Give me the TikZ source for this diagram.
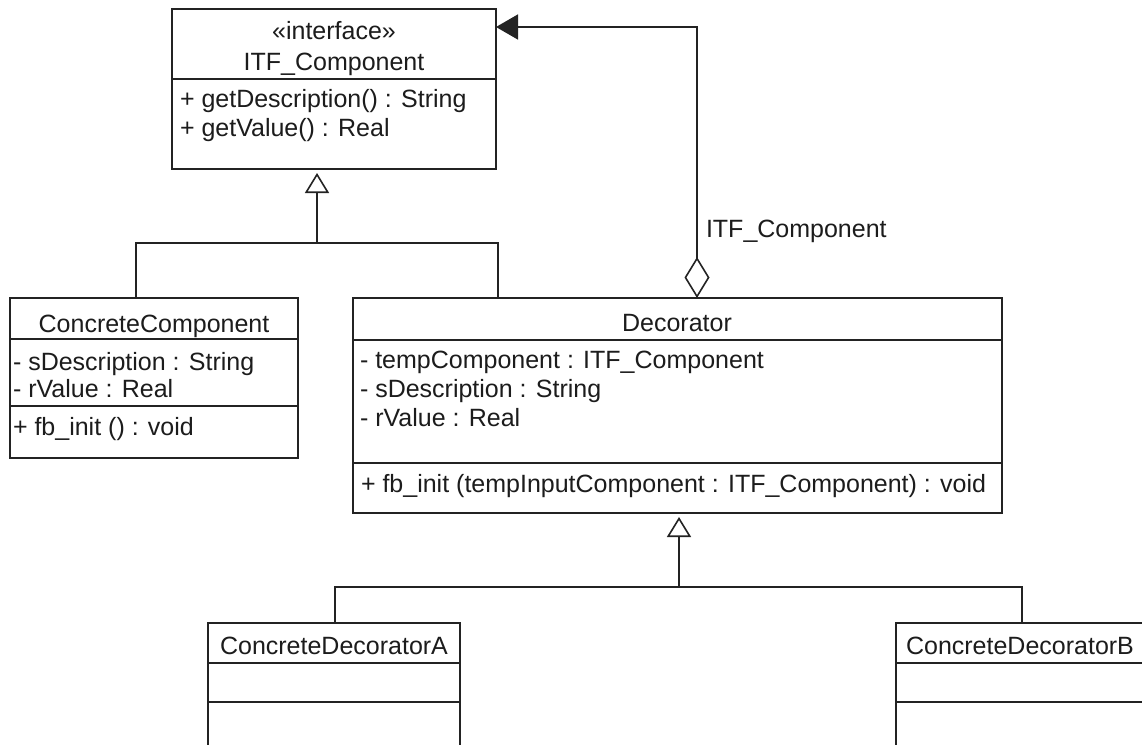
\documentclass[tikz,border=0pt]{standalone}
\usepackage{fontspec}
\setmainfont{Liberation Sans}
\usetikzlibrary{arrows.meta,calc}
\definecolor{ink}{RGB}{35,35,35}
\definecolor{txt}{RGB}{28,28,28}
\begin{document}
\begin{tikzpicture}[x=1pt,y=-1pt,
  every node/.style={font=\fontsize{25}{30}\selectfont, text=txt, inner sep=0pt, outer sep=0pt},
  rule/.style={draw=ink, line width=1.6pt},
  classbox/.style={rule, rectangle, anchor=north west, fill=white},
  member/.style={anchor=base west},
  title/.style={anchor=base},
  gen/.style={rule, -{Triangle[open, length=20pt, width=24pt, line width=1.6pt]}, shorten >=4pt},
  agg/.style={rule, {Diamond[open, length=41pt, width=25pt, line width=1.6pt]}-{Triangle[length=22pt, width=25pt]}}
]
\useasboundingbox (0,0) rectangle (1142,744);
\fill[white] (0,0) rectangle (1142,744);
\clip (0,0) rectangle (1142,744);

% ---------- class boxes ----------
\node[classbox, minimum width=324pt, minimum height=160pt] (itf) at (172,9) {};
\node[classbox, minimum width=288pt, minimum height=160pt] (cc)  at (10,298) {};
\node[classbox, minimum width=649pt, minimum height=215pt] (dec) at (353,298) {};
\node[classbox, minimum width=252pt, minimum height=160pt] (cda) at (208,623) {};
\node[classbox, minimum width=248pt, minimum height=160pt] (cdb) at (896,623) {};

% ---------- compartment rules ----------
\draw[rule] (itf.west |- 0,79)  -- (itf.east |- 0,79);
\draw[rule] (cc.west |- 0,339)  -- (cc.east |- 0,339);
\draw[rule] (cc.west |- 0,406)  -- (cc.east |- 0,406);
\draw[rule] (dec.west |- 0,340) -- (dec.east |- 0,340);
\draw[rule] (dec.west |- 0,463) -- (dec.east |- 0,463);
\draw[rule] (cda.west |- 0,663) -- (cda.east |- 0,663);
\draw[rule] (cda.west |- 0,702) -- (cda.east |- 0,702);
\draw[rule] (cdb.west |- 0,663) -- (cdb.east |- 0,663);
\draw[rule] (cdb.west |- 0,702) -- (cdb.east |- 0,702);

% ---------- ITF_Component ----------
\node[title]  (itfst)   at (334,39)  {«interface»};
\node[title]  (itfname) at (334,70)  {ITF\_Component};
\node[member] (itfm1)   at (180,107) {+ getDescription() : String};
\node[member] (itfm2)   at (180,136) {+ getValue() : Real};

% ---------- ConcreteComponent ----------
\node[title]  (ccname) at (154,332) {ConcreteComponent};
\node[member] (cca1)   at (13,370)  {- sDescription : String};
\node[member] (cca2)   at (13,397)  {- rValue : Real};
\node[member] (cco1)   at (13,435)  {+ fb\_init () : void};

% ---------- Decorator ----------
\node[title]  (decname) at (677,331) {Decorator};
\node[member] (deca1)   at (360,368) {- tempComponent : ITF\_Component};
\node[member] (deca2)   at (360,397) {- sDescription : String};
\node[member] (deca3)   at (360,426) {- rValue : Real};
\node[member] (deco1)   at (361,492) {+ fb\_init (tempInputComponent : ITF\_Component) : void};

% ---------- concrete decorators ----------
\node[title] (cdaname) at (334,654)  {ConcreteDecoratorA};
\node[title] (cdbname) at (1020,654) {ConcreteDecoratorB};

% ---------- generalization: components ----------
\coordinate (g1)  at (317,243);
\coordinate (g1l) at (136,243);
\coordinate (g1r) at (498,243);
\draw[rule] (cc.north -| g1l) -- (g1l) -- (g1r) -- (dec.north -| g1r);
\draw[gen] (g1) -- (itf.south -| g1);

% ---------- generalization: decorators ----------
\coordinate (g2)  at (679,587);
\coordinate (g2l) at (335,587);
\coordinate (g2r) at (1022,587);
\draw[rule] (cda.north -| g2l) -- (g2l) -- (g2r) -- (cdb.north -| g2r);
\draw[gen] (g2) -- (dec.south -| g2);

% ---------- aggregation ----------
\coordinate (aggbend) at (697,27);
\draw[agg] (dec.north -| aggbend) -- (aggbend) -- (itf.east |- aggbend);
\node[anchor=base west] (agglabel) at (706,237) {ITF\_Component};
\end{tikzpicture}
\end{document}
